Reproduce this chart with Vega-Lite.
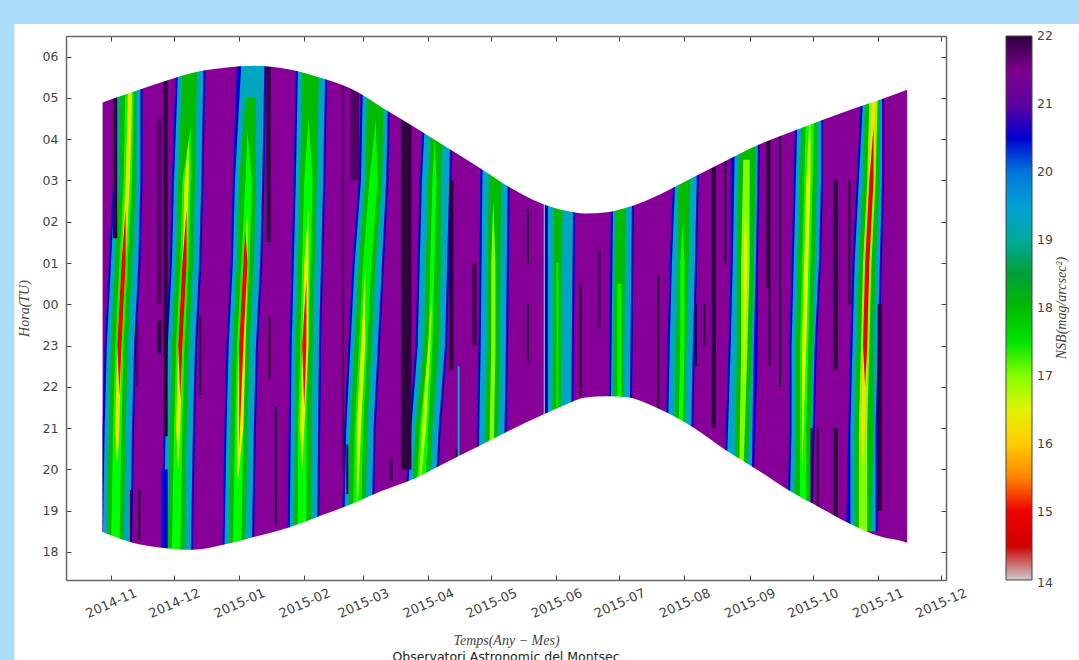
{"$schema":"https://vega.github.io/schema/vega-lite/v6.json","width":880,"height":544,"autosize":"none","padding":{"left":66,"top":36,"right":133,"bottom":80},"background":"#a9dcf9",
"title":{"text":"Observatori Astronomic del Montsec","orient":"bottom","anchor":"middle","offset":-9,"fontSize":12.5,"fontWeight":"normal","font":"DejaVu Sans","color":"#222"},
"config":{"view":{"stroke":null}},
"datasets":{"panel":[{"a":"2014-09-16","b":"2016-03-01","l":15.38,"h":30.79}],
"base":[{"a":"2014-10-28","b":"2015-11-15","l":17.5,"h":30,"v":21.25}],
"env":[{"t":"2014-10-27","sr":28.87,"ss":18.50},{"t":"2014-10-28","sr":28.89,"ss":18.48},{"t":"2014-11-10","sr":29.12,"ss":18.24},{"t":"2014-11-25","sr":29.38,"ss":18.10},{"t":"2014-12-10","sr":29.61,"ss":18.05},{"t":"2014-12-25","sr":29.73,"ss":18.18},{"t":"2015-01-08","sr":29.78,"ss":18.36},{"t":"2015-01-25","sr":29.69,"ss":18.60},{"t":"2015-02-10","sr":29.47,"ss":18.90},{"t":"2015-02-25","sr":29.18,"ss":19.19},{"t":"2015-03-10","sr":28.77,"ss":19.48},{"t":"2015-03-25","sr":28.31,"ss":19.77},{"t":"2015-04-10","sr":27.80,"ss":20.18},{"t":"2015-04-25","sr":27.32,"ss":20.56},{"t":"2015-05-10","sr":26.83,"ss":20.95},{"t":"2015-05-25","sr":26.44,"ss":21.31},{"t":"2015-06-05","sr":26.27,"ss":21.56},{"t":"2015-06-15","sr":26.20,"ss":21.74},{"t":"2015-06-25","sr":26.23,"ss":21.77},{"t":"2015-07-05","sr":26.35,"ss":21.75},{"t":"2015-07-15","sr":26.54,"ss":21.58},{"t":"2015-07-25","sr":26.78,"ss":21.34},{"t":"2015-08-05","sr":27.07,"ss":21.02},{"t":"2015-08-20","sr":27.46,"ss":20.49},{"t":"2015-09-05","sr":27.86,"ss":19.98},{"t":"2015-09-20","sr":28.16,"ss":19.48},{"t":"2015-10-05","sr":28.45,"ss":19.06},{"t":"2015-10-20","sr":28.73,"ss":18.65},{"t":"2015-11-01","sr":28.94,"ss":18.39},{"t":"2015-11-15","sr":29.20,"ss":18.22},{"t":"2015-11-16","sr":29.22,"ss":18.20}],
"bands":[
{"g":"b1a","h":18,"a":"2014-10-28","b":"2014-11-11","v":20.5},{"g":"b1a","h":21,"a":"2014-10-28","b":"2014-11-12","v":20.5},{"g":"b1a","h":23,"a":"2014-10-29","b":"2014-11-13","v":20.5},{"g":"b1a","h":25,"a":"2014-10-31","b":"2014-11-15","v":20.5},{"g":"b1a","h":27,"a":"2014-11-02","b":"2014-11-16","v":20.5},{"g":"b1a","h":29.8,"a":"2014-11-03","b":"2014-11-16","v":20.5},
{"g":"b1t","h":18,"a":"2014-10-28","b":"2014-11-10","v":19.35},{"g":"b1t","h":21,"a":"2014-10-29","b":"2014-11-11","v":19.35},{"g":"b1t","h":23,"a":"2014-10-30","b":"2014-11-12","v":19.35},{"g":"b1t","h":25,"a":"2014-11-01","b":"2014-11-14","v":19.35},{"g":"b1t","h":27,"a":"2014-11-03","b":"2014-11-15","v":19.35},{"g":"b1t","h":29.8,"a":"2014-11-04","b":"2014-11-15","v":19.35},
{"g":"b1g","h":18,"a":"2014-10-30","b":"2014-11-07","v":18},{"g":"b1g","h":21,"a":"2014-10-31","b":"2014-11-08","v":18},{"g":"b1g","h":23,"a":"2014-11-01","b":"2014-11-09","v":18},{"g":"b1g","h":25,"a":"2014-11-03","b":"2014-11-11","v":18},{"g":"b1g","h":27,"a":"2014-11-05","b":"2014-11-13","v":18},{"g":"b1g","h":29.8,"a":"2014-11-05","b":"2014-11-13","v":18},
{"g":"b1c","h":18,"a":"2014-11-01","b":"2014-11-05","v":17.2},{"g":"b1c","h":21,"a":"2014-11-02","b":"2014-11-06","v":17.2},{"g":"b1c","h":23,"a":"2014-11-03","b":"2014-11-07","v":17.2},{"g":"b1c","h":25,"a":"2014-11-05","b":"2014-11-09","v":17.2},{"g":"b1c","h":27,"a":"2014-11-07","b":"2014-11-11","v":17.2},{"g":"b1c","h":29.8,"a":"2014-11-08","b":"2014-11-12","v":17.2},
{"g":"b1y","h":20,"a":"2014-11-04","b":"2014-11-04","v":16.2},{"g":"b1y","h":21,"a":"2014-11-03","b":"2014-11-05","v":16.2},{"g":"b1y","h":23,"a":"2014-11-04","b":"2014-11-06","v":16.2},{"g":"b1y","h":25,"a":"2014-11-06","b":"2014-11-08","v":16.2},{"g":"b1y","h":27,"a":"2014-11-08","b":"2014-11-10","v":16.2},{"g":"b1y","h":29,"a":"2014-11-09","b":"2014-11-11","v":16.2},{"g":"b1y","h":29.5,"a":"2014-11-10","b":"2014-11-10","v":16.2},
{"g":"b1r","h":21.8,"a":"2014-11-05","b":"2014-11-05","v":15.1},{"g":"b1r","h":23,"a":"2014-11-04","b":"2014-11-06","v":15.1},{"g":"b1r","h":25,"a":"2014-11-06","b":"2014-11-08","v":15.1},{"g":"b1r","h":26.3,"a":"2014-11-08","b":"2014-11-08","v":15.1},
{"g":"b2a","h":18,"a":"2014-11-25","b":"2014-12-10","v":20.5},{"g":"b2a","h":21,"a":"2014-11-26","b":"2014-12-11","v":20.5},{"g":"b2a","h":23,"a":"2014-11-27","b":"2014-12-12","v":20.5},{"g":"b2a","h":25,"a":"2014-11-29","b":"2014-12-14","v":20.5},{"g":"b2a","h":27,"a":"2014-11-30","b":"2014-12-15","v":20.5},{"g":"b2a","h":29.8,"a":"2014-12-02","b":"2014-12-16","v":20.5},
{"g":"b2t","h":18,"a":"2014-11-26","b":"2014-12-09","v":19.35},{"g":"b2t","h":21,"a":"2014-11-27","b":"2014-12-10","v":19.35},{"g":"b2t","h":23,"a":"2014-11-28","b":"2014-12-11","v":19.35},{"g":"b2t","h":25,"a":"2014-11-30","b":"2014-12-13","v":19.35},{"g":"b2t","h":27,"a":"2014-12-01","b":"2014-12-14","v":19.35},{"g":"b2t","h":29.8,"a":"2014-12-03","b":"2014-12-15","v":19.35},
{"g":"b2g","h":18,"a":"2014-11-28","b":"2014-12-06","v":18},{"g":"b2g","h":21,"a":"2014-11-29","b":"2014-12-07","v":18},{"g":"b2g","h":23,"a":"2014-11-30","b":"2014-12-08","v":18},{"g":"b2g","h":25,"a":"2014-12-02","b":"2014-12-10","v":18},{"g":"b2g","h":27,"a":"2014-12-03","b":"2014-12-11","v":18},{"g":"b2g","h":29.8,"a":"2014-12-05","b":"2014-12-12","v":18},
{"g":"b2c","h":18,"a":"2014-11-30","b":"2014-12-04","v":17.2},{"g":"b2c","h":21,"a":"2014-12-01","b":"2014-12-05","v":17.2},{"g":"b2c","h":23,"a":"2014-12-02","b":"2014-12-06","v":17.2},{"g":"b2c","h":25,"a":"2014-12-04","b":"2014-12-08","v":17.2},{"g":"b2c","h":27,"a":"2014-12-05","b":"2014-12-09","v":17.2},{"g":"b2c","h":28.3,"a":"2014-12-09","b":"2014-12-09","v":17.2},
{"g":"b2y","h":20,"a":"2014-12-03","b":"2014-12-03","v":16.3},{"g":"b2y","h":21,"a":"2014-12-02","b":"2014-12-04","v":16.3},{"g":"b2y","h":23,"a":"2014-12-03","b":"2014-12-05","v":16.3},{"g":"b2y","h":25,"a":"2014-12-05","b":"2014-12-07","v":16.3},{"g":"b2y","h":27,"a":"2014-12-06","b":"2014-12-08","v":16.3},{"g":"b2y","h":28,"a":"2014-12-08","b":"2014-12-08","v":16.3},
{"g":"b2r","h":21.7,"a":"2014-12-04","b":"2014-12-04","v":15},{"g":"b2r","h":23,"a":"2014-12-03","b":"2014-12-05","v":15},{"g":"b2r","h":25,"a":"2014-12-05","b":"2014-12-07","v":15},{"g":"b2r","h":26.3,"a":"2014-12-07","b":"2014-12-07","v":15},
{"g":"b3a","h":18,"a":"2014-12-24","b":"2015-01-08","v":20.5},{"g":"b3a","h":21,"a":"2014-12-25","b":"2015-01-09","v":20.5},{"g":"b3a","h":23,"a":"2014-12-26","b":"2015-01-10","v":20.5},{"g":"b3a","h":25,"a":"2014-12-28","b":"2015-01-12","v":20.5},{"g":"b3a","h":27,"a":"2014-12-29","b":"2015-01-13","v":20.5},{"g":"b3a","h":29.8,"a":"2014-12-31","b":"2015-01-14","v":20.5},
{"g":"b3t","h":18,"a":"2014-12-25","b":"2015-01-07","v":19.35},{"g":"b3t","h":21,"a":"2014-12-26","b":"2015-01-08","v":19.35},{"g":"b3t","h":23,"a":"2014-12-27","b":"2015-01-09","v":19.35},{"g":"b3t","h":25,"a":"2014-12-29","b":"2015-01-11","v":19.35},{"g":"b3t","h":27,"a":"2014-12-30","b":"2015-01-12","v":19.35},{"g":"b3t","h":29.8,"a":"2015-01-02","b":"2015-01-13","v":19.35},
{"g":"b3g","h":18,"a":"2014-12-27","b":"2015-01-04","v":18},{"g":"b3g","h":21,"a":"2014-12-28","b":"2015-01-05","v":18},{"g":"b3g","h":23,"a":"2014-12-29","b":"2015-01-06","v":18},{"g":"b3g","h":25,"a":"2014-12-31","b":"2015-01-08","v":18},{"g":"b3g","h":27,"a":"2015-01-01","b":"2015-01-09","v":18},{"g":"b3g","h":29,"a":"2015-01-04","b":"2015-01-09","v":18},
{"g":"b3c","h":18,"a":"2014-12-29","b":"2015-01-02","v":17.2},{"g":"b3c","h":21,"a":"2014-12-30","b":"2015-01-03","v":17.2},{"g":"b3c","h":23,"a":"2014-12-31","b":"2015-01-04","v":17.2},{"g":"b3c","h":25,"a":"2015-01-02","b":"2015-01-06","v":17.2},{"g":"b3c","h":27,"a":"2015-01-04","b":"2015-01-07","v":17.2},{"g":"b3c","h":28.2,"a":"2015-01-05","b":"2015-01-05","v":17.2},
{"g":"b3y","h":19.5,"a":"2014-12-31","b":"2014-12-31","v":16.4},{"g":"b3y","h":21,"a":"2014-12-31","b":"2015-01-03","v":16.4},{"g":"b3y","h":23,"a":"2015-01-01","b":"2015-01-04","v":16.4},{"g":"b3y","h":25,"a":"2015-01-03","b":"2015-01-05","v":16.4},{"g":"b3y","h":26.3,"a":"2015-01-05","b":"2015-01-05","v":16.4},
{"g":"b3r","h":20.5,"a":"2015-01-01","b":"2015-01-01","v":15.1},{"g":"b3r","h":23,"a":"2015-01-01","b":"2015-01-03","v":15.1},{"g":"b3r","h":25,"a":"2015-01-03","b":"2015-01-05","v":15.1},{"g":"b3r","h":25.8,"a":"2015-01-04","b":"2015-01-04","v":15.1},
{"g":"b4a","h":18,"a":"2015-01-24","b":"2015-02-08","v":20.5},{"g":"b4a","h":23,"a":"2015-01-25","b":"2015-02-09","v":20.5},{"g":"b4a","h":25,"a":"2015-01-26","b":"2015-02-10","v":20.5},{"g":"b4a","h":27,"a":"2015-01-27","b":"2015-02-11","v":20.5},{"g":"b4a","h":29.8,"a":"2015-01-28","b":"2015-02-12","v":20.5},
{"g":"b4t","h":18,"a":"2015-01-25","b":"2015-02-07","v":19.35},{"g":"b4t","h":23,"a":"2015-01-26","b":"2015-02-08","v":19.35},{"g":"b4t","h":25,"a":"2015-01-27","b":"2015-02-09","v":19.35},{"g":"b4t","h":27,"a":"2015-01-28","b":"2015-02-10","v":19.35},{"g":"b4t","h":29.8,"a":"2015-01-29","b":"2015-02-11","v":19.35},
{"g":"b4g","h":18,"a":"2015-01-27","b":"2015-02-04","v":18},{"g":"b4g","h":23,"a":"2015-01-28","b":"2015-02-05","v":18},{"g":"b4g","h":25,"a":"2015-01-29","b":"2015-02-06","v":18},{"g":"b4g","h":27,"a":"2015-01-30","b":"2015-02-07","v":18},{"g":"b4g","h":29.8,"a":"2015-01-31","b":"2015-02-08","v":18},
{"g":"b4c","h":18,"a":"2015-01-29","b":"2015-02-02","v":17.2},{"g":"b4c","h":21,"a":"2015-01-29","b":"2015-02-02","v":17.2},{"g":"b4c","h":23,"a":"2015-01-30","b":"2015-02-03","v":17.2},{"g":"b4c","h":25,"a":"2015-01-31","b":"2015-02-04","v":17.2},{"g":"b4c","h":27,"a":"2015-02-01","b":"2015-02-05","v":17.2},{"g":"b4c","h":28.5,"a":"2015-02-03","b":"2015-02-03","v":17.2},
{"g":"b4y","h":20,"a":"2015-01-31","b":"2015-01-31","v":16.4},{"g":"b4y","h":21,"a":"2015-01-30","b":"2015-02-01","v":16.4},{"g":"b4y","h":23,"a":"2015-01-31","b":"2015-02-03","v":16.4},{"g":"b4y","h":25,"a":"2015-02-01","b":"2015-02-03","v":16.4},{"g":"b4y","h":26.3,"a":"2015-02-03","b":"2015-02-03","v":16.4},
{"g":"b4r","h":21.5,"a":"2015-02-01","b":"2015-02-01","v":15.2},{"g":"b4r","h":23,"a":"2015-01-31","b":"2015-02-02","v":15.2},{"g":"b4r","h":24.6,"a":"2015-02-02","b":"2015-02-02","v":15.2},
{"g":"b5a","h":18.5,"a":"2015-02-19","b":"2015-03-06","v":20.5},{"g":"b5a","h":21,"a":"2015-02-20","b":"2015-03-07","v":20.5},{"g":"b5a","h":23,"a":"2015-02-22","b":"2015-03-09","v":20.5},{"g":"b5a","h":25,"a":"2015-02-24","b":"2015-03-11","v":20.5},{"g":"b5a","h":27,"a":"2015-02-27","b":"2015-03-13","v":20.5},{"g":"b5a","h":29.5,"a":"2015-02-28","b":"2015-03-14","v":20.5},
{"g":"b5t","h":18.5,"a":"2015-02-20","b":"2015-03-05","v":19.35},{"g":"b5t","h":21,"a":"2015-02-21","b":"2015-03-06","v":19.35},{"g":"b5t","h":23,"a":"2015-02-23","b":"2015-03-08","v":19.35},{"g":"b5t","h":25,"a":"2015-02-25","b":"2015-03-10","v":19.35},{"g":"b5t","h":27,"a":"2015-02-28","b":"2015-03-12","v":19.35},{"g":"b5t","h":29.5,"a":"2015-03-01","b":"2015-03-13","v":19.35},
{"g":"b5g","h":18.5,"a":"2015-02-22","b":"2015-03-02","v":18},{"g":"b5g","h":21,"a":"2015-02-23","b":"2015-03-03","v":18},{"g":"b5g","h":23,"a":"2015-02-25","b":"2015-03-05","v":18},{"g":"b5g","h":25,"a":"2015-02-27","b":"2015-03-07","v":18},{"g":"b5g","h":27,"a":"2015-03-02","b":"2015-03-10","v":18},{"g":"b5g","h":29.5,"a":"2015-03-03","b":"2015-03-11","v":18},
{"g":"b5c","h":18.5,"a":"2015-02-24","b":"2015-02-28","v":17.3},{"g":"b5c","h":21,"a":"2015-02-25","b":"2015-03-01","v":17.3},{"g":"b5c","h":23,"a":"2015-02-27","b":"2015-03-03","v":17.3},{"g":"b5c","h":25,"a":"2015-03-01","b":"2015-03-05","v":17.3},{"g":"b5c","h":27,"a":"2015-03-04","b":"2015-03-08","v":17.3},{"g":"b5c","h":28.5,"a":"2015-03-07","b":"2015-03-07","v":17.3},
{"g":"b5y","h":18.5,"a":"2015-02-26","b":"2015-02-26","v":16.5},{"g":"b5y","h":21,"a":"2015-02-26","b":"2015-02-28","v":16.5},{"g":"b5y","h":23,"a":"2015-02-28","b":"2015-03-02","v":16.5},{"g":"b5y","h":24.8,"a":"2015-03-02","b":"2015-03-02","v":16.5},
{"g":"b6a","h":19,"a":"2015-03-21","b":"2015-04-05","v":20.5},{"g":"b6a","h":21,"a":"2015-03-23","b":"2015-04-07","v":20.5},{"g":"b6a","h":23,"a":"2015-03-26","b":"2015-04-10","v":20.5},{"g":"b6a","h":25,"a":"2015-03-27","b":"2015-04-11","v":20.5},{"g":"b6a","h":27,"a":"2015-03-28","b":"2015-04-12","v":20.5},{"g":"b6a","h":29,"a":"2015-03-30","b":"2015-04-13","v":20.5},
{"g":"b6t","h":19,"a":"2015-03-22","b":"2015-04-04","v":19.35},{"g":"b6t","h":21,"a":"2015-03-24","b":"2015-04-06","v":19.35},{"g":"b6t","h":23,"a":"2015-03-27","b":"2015-04-09","v":19.35},{"g":"b6t","h":25,"a":"2015-03-28","b":"2015-04-10","v":19.35},{"g":"b6t","h":27,"a":"2015-03-29","b":"2015-04-11","v":19.35},{"g":"b6t","h":29,"a":"2015-03-31","b":"2015-04-12","v":19.35},
{"g":"b6g","h":19,"a":"2015-03-24","b":"2015-04-01","v":18},{"g":"b6g","h":21,"a":"2015-03-26","b":"2015-04-03","v":18},{"g":"b6g","h":23,"a":"2015-03-30","b":"2015-04-06","v":18},{"g":"b6g","h":25,"a":"2015-03-31","b":"2015-04-07","v":18},{"g":"b6g","h":27,"a":"2015-04-01","b":"2015-04-07","v":18},{"g":"b6g","h":29,"a":"2015-04-03","b":"2015-04-09","v":18},
{"g":"b6c","h":19,"a":"2015-03-26","b":"2015-03-30","v":17.2},{"g":"b6c","h":21,"a":"2015-03-28","b":"2015-04-01","v":17.2},{"g":"b6c","h":23,"a":"2015-04-01","b":"2015-04-03","v":17.2},{"g":"b6c","h":25,"a":"2015-04-02","b":"2015-04-04","v":17.2},{"g":"b6c","h":27,"a":"2015-04-03","b":"2015-04-05","v":17.2},{"g":"b6c","h":28,"a":"2015-04-04","b":"2015-04-04","v":17.2},
{"g":"b6y","h":19,"a":"2015-03-27","b":"2015-03-27","v":16.7},{"g":"b6y","h":21,"a":"2015-03-29","b":"2015-03-31","v":16.7},{"g":"b6y","h":23,"a":"2015-04-01","b":"2015-04-02","v":16.7},{"g":"b6y","h":24.5,"a":"2015-04-03","b":"2015-04-03","v":16.7},
{"g":"b7a","h":20,"a":"2015-04-24","b":"2015-05-08","v":20.5},{"g":"b7a","h":23,"a":"2015-04-25","b":"2015-05-09","v":20.5},{"g":"b7a","h":28,"a":"2015-04-26","b":"2015-05-10","v":20.5},
{"g":"b7t","h":20,"a":"2015-04-25","b":"2015-05-07","v":19.35},{"g":"b7t","h":23,"a":"2015-04-26","b":"2015-05-08","v":19.35},{"g":"b7t","h":28,"a":"2015-04-27","b":"2015-05-09","v":19.35},
{"g":"b7g","h":20,"a":"2015-04-28","b":"2015-05-04","v":18},{"g":"b7g","h":23,"a":"2015-04-29","b":"2015-05-05","v":18},{"g":"b7g","h":28,"a":"2015-04-30","b":"2015-05-06","v":18},
{"g":"b7c","h":20,"a":"2015-04-30","b":"2015-05-02","v":17},{"g":"b7c","h":23,"a":"2015-05-01","b":"2015-05-03","v":17},{"g":"b7c","h":25,"a":"2015-05-01","b":"2015-05-03","v":17},{"g":"b7c","h":26.5,"a":"2015-05-02","b":"2015-05-02","v":17},
{"g":"b8a","h":21,"a":"2015-05-26","b":"2015-06-09","v":20.5},{"g":"b8a","h":26.6,"a":"2015-05-26","b":"2015-06-10","v":20.5},
{"g":"b8t","h":21,"a":"2015-05-28","b":"2015-06-08","v":19.35},{"g":"b8t","h":26.6,"a":"2015-05-28","b":"2015-06-09","v":19.35},
{"g":"b8g","h":21,"a":"2015-05-30","b":"2015-06-03","v":18},{"g":"b8g","h":26.6,"a":"2015-05-31","b":"2015-06-04","v":18},
{"g":"b8c","h":21.5,"a":"2015-06-01","b":"2015-06-02","v":17.4},{"g":"b8c","h":25,"a":"2015-06-01","b":"2015-06-02","v":17.4},
{"g":"b9a","h":21.5,"a":"2015-06-26","b":"2015-07-07","v":20.5},{"g":"b9a","h":26.5,"a":"2015-06-27","b":"2015-07-08","v":20.5},
{"g":"b9t","h":21.5,"a":"2015-06-27","b":"2015-07-06","v":19.35},{"g":"b9t","h":26.5,"a":"2015-06-28","b":"2015-07-07","v":19.35},
{"g":"b9g","h":21.5,"a":"2015-06-28","b":"2015-07-03","v":18},{"g":"b9g","h":26.5,"a":"2015-06-29","b":"2015-07-04","v":18},
{"g":"b9c","h":21.5,"a":"2015-06-30","b":"2015-07-02","v":17.3},{"g":"b9c","h":24.5,"a":"2015-06-30","b":"2015-07-02","v":17.3},
{"g":"b10a","h":20.5,"a":"2015-07-23","b":"2015-08-05","v":20.5},{"g":"b10a","h":23,"a":"2015-07-24","b":"2015-08-06","v":20.5},{"g":"b10a","h":25,"a":"2015-07-25","b":"2015-08-07","v":20.5},{"g":"b10a","h":27.5,"a":"2015-07-27","b":"2015-08-08","v":20.5},
{"g":"b10t","h":20.5,"a":"2015-07-24","b":"2015-08-04","v":19.35},{"g":"b10t","h":23,"a":"2015-07-25","b":"2015-08-05","v":19.35},{"g":"b10t","h":25,"a":"2015-07-26","b":"2015-08-06","v":19.35},{"g":"b10t","h":27.5,"a":"2015-07-28","b":"2015-08-07","v":19.35},
{"g":"b10g","h":20.5,"a":"2015-07-27","b":"2015-08-01","v":18},{"g":"b10g","h":23,"a":"2015-07-28","b":"2015-08-02","v":18},{"g":"b10g","h":25,"a":"2015-07-29","b":"2015-08-03","v":18},{"g":"b10g","h":27.5,"a":"2015-07-29","b":"2015-08-04","v":18},
{"g":"b10c","h":20.5,"a":"2015-07-29","b":"2015-07-31","v":17.2},{"g":"b10c","h":23,"a":"2015-07-30","b":"2015-08-01","v":17.2},{"g":"b10c","h":25,"a":"2015-07-30","b":"2015-08-01","v":17.2},{"g":"b10c","h":26,"a":"2015-07-31","b":"2015-07-31","v":17.2},
{"g":"b11a","h":19.8,"a":"2015-08-20","b":"2015-09-03","v":20.5},{"g":"b11a","h":23,"a":"2015-08-22","b":"2015-09-05","v":20.5},{"g":"b11a","h":25,"a":"2015-08-23","b":"2015-09-05","v":20.5},{"g":"b11a","h":28,"a":"2015-08-23","b":"2015-09-06","v":20.5},
{"g":"b11t","h":19.8,"a":"2015-08-21","b":"2015-09-02","v":19.35},{"g":"b11t","h":23,"a":"2015-08-23","b":"2015-09-03","v":19.35},{"g":"b11t","h":25,"a":"2015-08-24","b":"2015-09-04","v":19.35},{"g":"b11t","h":28,"a":"2015-08-25","b":"2015-09-05","v":19.35},
{"g":"b11g","h":19.8,"a":"2015-08-25","b":"2015-08-31","v":18},{"g":"b11g","h":23,"a":"2015-08-26","b":"2015-09-02","v":18},{"g":"b11g","h":25,"a":"2015-08-26","b":"2015-09-03","v":18},{"g":"b11g","h":28,"a":"2015-08-27","b":"2015-09-04","v":18},
{"g":"b11c","h":19.8,"a":"2015-08-27","b":"2015-08-29","v":17},{"g":"b11c","h":23,"a":"2015-08-28","b":"2015-08-31","v":17},{"g":"b11c","h":25,"a":"2015-08-28","b":"2015-09-01","v":17},{"g":"b11c","h":27.5,"a":"2015-08-29","b":"2015-09-01","v":17},
{"g":"b11y","h":21.5,"a":"2015-08-29","b":"2015-08-29","v":16.5},{"g":"b11y","h":23,"a":"2015-08-29","b":"2015-08-30","v":16.5},{"g":"b11y","h":25,"a":"2015-08-29","b":"2015-08-31","v":16.5},{"g":"b11y","h":26.5,"a":"2015-08-30","b":"2015-08-30","v":16.5},
{"g":"b12a","h":18.8,"a":"2015-09-19","b":"2015-10-01","v":20.5},{"g":"b12a","h":21,"a":"2015-09-20","b":"2015-10-02","v":20.5},{"g":"b12a","h":23,"a":"2015-09-20","b":"2015-10-03","v":20.5},{"g":"b12a","h":25,"a":"2015-09-21","b":"2015-10-05","v":20.5},{"g":"b12a","h":27,"a":"2015-09-22","b":"2015-10-06","v":20.5},{"g":"b12a","h":29,"a":"2015-09-23","b":"2015-10-06","v":20.5},
{"g":"b12t","h":18.8,"a":"2015-09-20","b":"2015-09-30","v":19.35},{"g":"b12t","h":21,"a":"2015-09-21","b":"2015-10-01","v":19.35},{"g":"b12t","h":23,"a":"2015-09-21","b":"2015-10-02","v":19.35},{"g":"b12t","h":25,"a":"2015-09-22","b":"2015-10-04","v":19.35},{"g":"b12t","h":27,"a":"2015-09-23","b":"2015-10-05","v":19.35},{"g":"b12t","h":29,"a":"2015-09-24","b":"2015-10-05","v":19.35},
{"g":"b12g","h":18.8,"a":"2015-09-22","b":"2015-09-30","v":18},{"g":"b12g","h":21,"a":"2015-09-23","b":"2015-09-30","v":18},{"g":"b12g","h":23,"a":"2015-09-23","b":"2015-10-01","v":18},{"g":"b12g","h":25,"a":"2015-09-24","b":"2015-10-02","v":18},{"g":"b12g","h":27,"a":"2015-09-25","b":"2015-10-03","v":18},{"g":"b12g","h":29,"a":"2015-09-26","b":"2015-10-03","v":18},
{"g":"b12c","h":18.8,"a":"2015-09-25","b":"2015-09-28","v":17.2},{"g":"b12c","h":21,"a":"2015-09-25","b":"2015-09-28","v":17.2},{"g":"b12c","h":23,"a":"2015-09-25","b":"2015-09-29","v":17.2},{"g":"b12c","h":25,"a":"2015-09-26","b":"2015-09-30","v":17.2},{"g":"b12c","h":27,"a":"2015-09-27","b":"2015-10-01","v":17.2},{"g":"b12c","h":29,"a":"2015-09-28","b":"2015-10-02","v":17.2},
{"g":"b12y","h":20,"a":"2015-09-26","b":"2015-09-26","v":16.4},{"g":"b12y","h":23,"a":"2015-09-26","b":"2015-09-28","v":16.4},{"g":"b12y","h":25,"a":"2015-09-27","b":"2015-09-29","v":16.4},{"g":"b12y","h":27,"a":"2015-09-28","b":"2015-09-30","v":16.4},{"g":"b12y","h":29,"a":"2015-09-30","b":"2015-09-30","v":16.4},
{"g":"b13a","h":18.5,"a":"2015-10-17","b":"2015-11-01","v":20.5},{"g":"b13a","h":21,"a":"2015-10-18","b":"2015-11-01","v":20.5},{"g":"b13a","h":23,"a":"2015-10-19","b":"2015-11-02","v":20.5},{"g":"b13a","h":25,"a":"2015-10-20","b":"2015-11-03","v":20.5},{"g":"b13a","h":27,"a":"2015-10-22","b":"2015-11-04","v":20.5},{"g":"b13a","h":29,"a":"2015-10-24","b":"2015-11-04","v":20.5},
{"g":"b13t","h":18.5,"a":"2015-10-19","b":"2015-10-31","v":19.35},{"g":"b13t","h":21,"a":"2015-10-19","b":"2015-10-31","v":19.35},{"g":"b13t","h":23,"a":"2015-10-20","b":"2015-11-01","v":19.35},{"g":"b13t","h":25,"a":"2015-10-21","b":"2015-11-02","v":19.35},{"g":"b13t","h":27,"a":"2015-10-23","b":"2015-11-03","v":19.35},{"g":"b13t","h":29,"a":"2015-10-25","b":"2015-11-03","v":19.35},
{"g":"b13g","h":18.5,"a":"2015-10-21","b":"2015-10-29","v":18},{"g":"b13g","h":21,"a":"2015-10-21","b":"2015-10-30","v":18},{"g":"b13g","h":23,"a":"2015-10-22","b":"2015-10-30","v":18},{"g":"b13g","h":25,"a":"2015-10-23","b":"2015-10-31","v":18},{"g":"b13g","h":27,"a":"2015-10-25","b":"2015-11-02","v":18},{"g":"b13g","h":29,"a":"2015-10-26","b":"2015-11-02","v":18},
{"g":"b13c","h":18.5,"a":"2015-10-23","b":"2015-10-27","v":17},{"g":"b13c","h":21,"a":"2015-10-23","b":"2015-10-27","v":17},{"g":"b13c","h":23,"a":"2015-10-24","b":"2015-10-28","v":17},{"g":"b13c","h":25,"a":"2015-10-25","b":"2015-10-29","v":17},{"g":"b13c","h":27,"a":"2015-10-27","b":"2015-10-31","v":17},{"g":"b13c","h":29,"a":"2015-10-28","b":"2015-11-01","v":17},
{"g":"b13y","h":20,"a":"2015-10-25","b":"2015-10-25","v":16.2},{"g":"b13y","h":21,"a":"2015-10-24","b":"2015-10-26","v":16.2},{"g":"b13y","h":23,"a":"2015-10-25","b":"2015-10-27","v":16.2},{"g":"b13y","h":25,"a":"2015-10-26","b":"2015-10-28","v":16.2},{"g":"b13y","h":27,"a":"2015-10-28","b":"2015-10-30","v":16.2},{"g":"b13y","h":29,"a":"2015-10-29","b":"2015-10-31","v":16.2},
{"g":"b13r","h":22,"a":"2015-10-26","b":"2015-10-26","v":15},{"g":"b13r","h":23,"a":"2015-10-25","b":"2015-10-27","v":15},{"g":"b13r","h":25,"a":"2015-10-26","b":"2015-10-28","v":15},{"g":"b13r","h":27,"a":"2015-10-28","b":"2015-10-30","v":15},{"g":"b13r","h":28.3,"a":"2015-10-30","b":"2015-10-30","v":15}],
"nsb":[{"a":"2014-11-02","b":"2014-11-04","l":25.6,"h":30,"v":22},{"a":"2014-11-26","b":"2014-11-28","l":20.8,"h":30,"v":22},{"a":"2014-11-23","b":"2014-11-25","l":24,"h":28.5,"v":21.8},{"a":"2014-11-23","b":"2014-11-25","l":22.8,"h":23.6,"v":22},{"a":"2014-11-25","b":"2014-11-28","l":17.5,"h":20,"v":20.5},{"a":"2014-11-10","b":"2014-11-11","l":18.3,"h":19.5,"v":22},{"a":"2014-11-14","b":"2014-11-15","l":18.3,"h":19.5,"v":22},{"a":"2014-11-13","b":"2014-11-14","l":22,"h":23.5,"v":21.8},
{"a":"2014-12-13","b":"2014-12-14","l":21.8,"h":23.7,"v":22},{"a":"2015-01-15","b":"2015-01-16","l":22.2,"h":23.7,"v":22},{"a":"2015-01-18","b":"2015-01-19","l":18.7,"h":21.5,"v":22},{"a":"2015-01-14","b":"2015-01-16","l":25.5,"h":30,"v":22},
{"a":"2015-02-19","b":"2015-02-20","l":20,"h":30,"v":21.8},{"a":"2015-02-23","b":"2015-02-27","l":27,"h":29.2,"v":21.8},{"a":"2015-02-21","b":"2015-02-22","l":19.4,"h":20.6,"v":22},
{"a":"2015-03-19","b":"2015-03-24","l":20,"h":28.5,"v":22},{"a":"2015-03-14","b":"2015-03-15","l":19.7,"h":20.3,"v":22},{"a":"2015-04-11","b":"2015-04-13","l":22.4,"h":27,"v":22},{"a":"2015-04-22","b":"2015-04-24","l":23,"h":25,"v":21.9},{"a":"2015-04-14","b":"2015-04-15","l":19.9,"h":20.5,"v":22},{"a":"2015-04-15","b":"2015-04-16","l":20.2,"h":22.5,"v":19.4},
{"a":"2015-05-18","b":"2015-05-19","l":25,"h":26.3,"v":22},{"a":"2015-05-18","b":"2015-05-19","l":22.6,"h":24,"v":22},{"a":"2015-05-26","b":"2015-05-26T12:00:00Z","l":21,"h":26.6,"v":14},{"a":"2015-06-21","b":"2015-06-22","l":23.4,"h":25.3,"v":21.9},{"a":"2015-06-12","b":"2015-06-13","l":21.8,"h":24.5,"v":22},
{"a":"2015-07-19","b":"2015-07-20","l":21,"h":24.7,"v":22},{"a":"2015-08-06","b":"2015-08-07","l":22.5,"h":24,"v":22},{"a":"2015-08-10","b":"2015-08-11","l":23,"h":24,"v":22},{"a":"2015-08-14","b":"2015-08-16","l":21,"h":27.8,"v":22},{"a":"2015-08-20","b":"2015-08-21","l":25,"h":27.8,"v":22},
{"a":"2015-09-09","b":"2015-09-11","l":24.4,"h":29,"v":22},{"a":"2015-09-10","b":"2015-09-11","l":22.5,"h":24.4,"v":22},{"a":"2015-09-15","b":"2015-09-16","l":22,"h":29,"v":22},{"a":"2015-10-11","b":"2015-10-13","l":22.4,"h":27,"v":22},{"a":"2015-10-11","b":"2015-10-13","l":18.4,"h":21,"v":22},{"a":"2015-09-30","b":"2015-10-01","l":18.8,"h":21,"v":22},{"a":"2015-10-03","b":"2015-10-04","l":18.8,"h":21,"v":22},{"a":"2015-10-18","b":"2015-10-19","l":24,"h":27,"v":22},{"a":"2015-11-01","b":"2015-11-03","l":19,"h":24,"v":22}]},
"layer":[
{"data":{"name":"panel"},"transform":[{"calculate":"+toDate(datum.a)","as":"x0"},{"calculate":"+toDate(datum.b)","as":"x1"}],"mark":{"type":"rect","fill":"#ffffff","clip":false},
"encoding":{"x":{"field":"x0","type":"quantitative","scale":{"domain":[1412949600000,1449144000000],"nice":false,"zero":false},"axis":{"orient":"bottom","values":[1414800000000,1417392000000,1420070400000,1422748800000,1425168000000,1427846400000,1430438400000,1433116800000,1435708800000,1438387200000,1441065600000,1443657600000,1446336000000,1448928000000],"labelExpr":"utcFormat(datum.value,'%Y-%m')","grid":false,"labelAngle":-24,"labelAlign":"center","labelBaseline":"middle","labelPadding":28,"tickSize":-5,"tickColor":"#444","domainColor":"#666","domainWidth":1.5,"labelColor":"#444","labelFont":"DejaVu Sans","labelFontSize":13,"labelOverlap":false,"zindex":1,"title":"Temps(Any − Mes)","titleFont":"Liberation Serif","titleFontStyle":"italic","titleFontWeight":"normal","titleFontSize":14,"titleColor":"#444","titlePadding":13}},"x2":{"field":"x1"},
"y":{"field":"l","type":"quantitative","scale":{"domain":[17.32,30.5],"nice":false,"zero":false},"axis":{"orient":"left","values":[18,19,20,21,22,23,24,25,26,27,28,29,30],"labelExpr":"format(datum.value % 24,'02d')","grid":false,"tickSize":-5,"labelPadding":13,"tickColor":"#444","domainColor":"#666","domainWidth":1.5,"labelColor":"#444","labelFont":"DejaVu Sans","labelFontSize":12.5,"zindex":1,"title":"Hora(TU)","titleFont":"Liberation Serif","titleFontStyle":"italic","titleFontWeight":"normal","titleFontSize":14,"titleColor":"#444","titlePadding":11}},"y2":{"field":"h"}}},
{"data":{"name":"base"},"transform":[{"calculate":"+toDate(datum.a)","as":"x0"},{"calculate":"+toDate(datum.b)","as":"x1"}],"mark":{"type":"rect","stroke":null},
"encoding":{"x":{"field":"x0","type":"quantitative","axis":{"orient":"top","labels":false,"values":[1414800000000,1417392000000,1420070400000,1422748800000,1425168000000,1427846400000,1430438400000,1433116800000,1435708800000,1438387200000,1441065600000,1443657600000,1446336000000,1448928000000],"grid":false,"tickSize":-5,"tickColor":"#444","domainColor":"#666","domainWidth":1.5,"zindex":1,"title":null}},"x2":{"field":"x1"},
"y":{"field":"l","type":"quantitative","axis":{"orient":"right","labels":false,"values":[18,19,20,21,22,23,24,25,26,27,28,29,30],"grid":false,"tickSize":-5,"tickColor":"#444","domainColor":"#666","domainWidth":1.5,"zindex":1,"title":null}},"y2":{"field":"h"},
"color":{"field":"v","type":"quantitative","scale":{"domain":[14,14.4,14.8,15.2,15.6,16,16.4,16.8,17.2,17.6,18,18.4,18.8,19.2,19.6,20,20.4,20.8,21.2,21.6,22],"range":["#cccccc","#cc0000","#dd0000","#ff0000","#ff9900","#ffcc00","#eeee00","#bbff00","#00ff00","#00dd00","#00bb00","#009900","#00aa88","#00aaaa","#0099dd","#0077dd","#0000dd","#0000aa","#880099","#770088","#000000"]},
"legend":{"orient":"none","legendX":940,"legendY":0,"type":"gradient","gradientLength":544,"gradientThickness":26,"gradientStrokeColor":"#444","gradientStrokeWidth":1,"values":[14,15,16,17,18,19,20,21,22],"labelColor":"#444","labelFont":"DejaVu Sans","labelFontSize":12.5,"labelOverlap":false,"labelOffset":5,"title":"NSB(mag/arcsec²)","titleOrient":"right","titleFont":"Liberation Serif","titleFontStyle":"italic","titleFontWeight":"normal","titleFontSize":14,"titleColor":"#444","titleAnchor":"middle","titlePadding":16,"encode":{"labels":{"update":{"baseline":{"value":"middle"},"dy":{"signal":"datum.value===14?3:0"}}},"title":{"update":{"angle":{"value":270}}}}}}}},
{"data":{"name":"bands"},"transform":[{"calculate":"+toDate(datum.a)","as":"x0"},{"calculate":"+toDate(datum.b)","as":"x1"}],"mark":{"type":"area","orient":"horizontal"},
"encoding":{"y":{"field":"h","type":"quantitative","axis":null},"x":{"field":"x0","type":"quantitative","stack":null,"axis":null},"x2":{"field":"x1"},"detail":{"field":"g"},"color":{"field":"v","type":"quantitative","legend":null}}},
{"data":{"name":"nsb"},"transform":[{"calculate":"+toDate(datum.a)","as":"x0"},{"calculate":"+toDate(datum.b)","as":"x1"}],"mark":{"type":"rect","stroke":null},
"encoding":{"x":{"field":"x0","type":"quantitative","axis":null},"x2":{"field":"x1"},"y":{"field":"l","type":"quantitative","axis":null},"y2":{"field":"h"},"color":{"field":"v","type":"quantitative","legend":null}}},
{"data":{"name":"env"},"transform":[{"calculate":"+toDate(datum.t)","as":"x0"}],"mark":{"type":"area","fill":"#ffffff","interpolate":"monotone"},"encoding":{"x":{"field":"x0","type":"quantitative","axis":null},"y":{"field":"sr","type":"quantitative","stack":null,"axis":null},"y2":{"datum":30.48}}},
{"data":{"name":"env"},"transform":[{"calculate":"+toDate(datum.t)","as":"x0"}],"mark":{"type":"area","fill":"#ffffff","interpolate":"monotone"},"encoding":{"x":{"field":"x0","type":"quantitative","axis":null},"y":{"field":"ss","type":"quantitative","stack":null,"axis":null},"y2":{"datum":17.34}}}
],
"resolve":{"axis":{"x":"independent","y":"independent"}}}
